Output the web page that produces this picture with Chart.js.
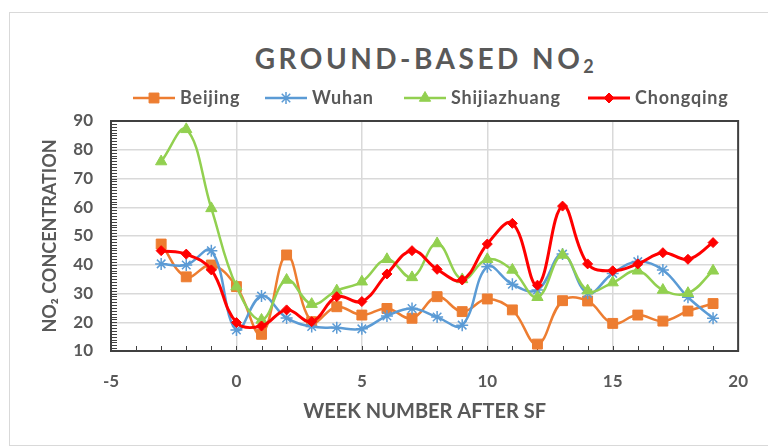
<!DOCTYPE html>
<html>

<head>
    <meta charset="utf-8">
    <script src="https://cdn.jsdelivr.net/npm/chart.js@4.4.0/dist/chart.umd.min.js"></script>
    <style>
        body { margin: 0; background: #fff; }
        #wrap { position: relative; width: 768px; height: 446px; overflow: hidden; }
        #frame { position: absolute; left: 9px; top: 12px; width: 800px; height: 432px; border: 1px solid #d9d9d9; }
        #title {
            position: absolute; left: 0; width: 852px; top: 41px; text-align: center;
            font: bold 28px Lato; line-height: 34px; letter-spacing: 3.5px; color: #595959;
        }
        #title sub { font-size: 18px; vertical-align: -4px; line-height: 0; }
        canvas { position: absolute; left: 0; top: 0; }
    </style>
</head>

<body>
    <div id="wrap">
        <div id="frame"></div>
        <div id="title">GROUND-BASED NO<sub>2</sub></div>
        <canvas id="myChart" width="768" height="446"></canvas>
    </div>

    <script>
        // week numbers after SF
        var weeks = [-3, -2, -1, 0, 1, 2, 3, 4, 5, 6, 7, 8, 9, 10, 11, 12, 13, 14, 15, 16, 17, 18, 19];

        var beijing = [47.2, 35.8, 39.9, 32.4, 15.8, 43.4, 20.2, 25.4, 22.5, 24.8, 21.4, 28.9, 23.7, 28.1, 24.3, 12.4, 27.5, 27.4, 19.6, 22.5, 20.4, 23.9, 26.5];
        var wuhan = [40.3, 39.9, 44.9, 17.3, 29.1, 21.5, 18.5, 18.1, 17.7, 22.2, 24.8, 21.8, 19.0, 39.3, 33.2, 31.2, 43.7, 30.1, 37.0, 41.1, 38.2, 28.7, 21.4];
        var shijiazhuang = [75.9, 87.1, 59.6, 32.4, 20.8, 34.7, 26.3, 31.0, 34.1, 41.9, 35.6, 47.4, 34.9, 41.9, 38.2, 28.7, 43.4, 31.0, 33.8, 37.9, 31.2, 30.1, 37.9];
        var chongqing = [44.9, 43.7, 38.2, 19.9, 18.7, 24.3, 20.2, 28.9, 27.2, 36.8, 44.9, 38.4, 34.7, 47.2, 54.4, 32.9, 60.4, 40.3, 37.9, 40.3, 44.2, 41.9, 47.7];

        var cities = ["Beijing", "Wuhan", "Shijiazhuang", "Chongqing"];

        // legend placement (left end of each legend line)
        var legendX = [133, 265, 404, 588];
        var legendY = 98;

        function pts(vals) {
            return weeks.map(function (w, i) { return { x: w, y: vals[i] }; });
        }

        function series(label, vals, color, style, radius, width, order) {
            return {
                label: label,
                data: pts(vals),
                borderColor: color,
                backgroundColor: color,
                pointBackgroundColor: color,
                pointBorderColor: color,
                pointStyle: style,
                pointRadius: radius,
                pointHoverRadius: radius,
                pointBorderWidth: style == "star" ? 1.5 : 1,
                borderWidth: width,
                tension: 0.4,
                order: order
            };
        }

        // minor ticks + box round the plot area
        var plotBox = {
            id: "plotBox",
            beforeDatasetsDraw: function (chart) {
                var ctx = chart.ctx, a = chart.chartArea;
                var xs = chart.scales.x, ys = chart.scales.y;
                ctx.save();
                ctx.strokeStyle = "#404040";
                ctx.lineWidth = 1;
                ctx.beginPath();
                for (var v = xs.min; v <= xs.max; v++) {
                    var px = Math.round(xs.getPixelForValue(v)) + 0.5;
                    ctx.moveTo(px, a.bottom);
                    ctx.lineTo(px, a.bottom - 5);
                }
                for (var w = ys.min; w <= ys.max; w++) {
                    var py = Math.round(ys.getPixelForValue(w)) + 0.5;
                    ctx.moveTo(a.left, py);
                    ctx.lineTo(a.left + 6, py);
                }
                ctx.stroke();
                ctx.lineWidth = 2;
                ctx.strokeRect(a.left, a.top, a.right - a.left, a.bottom - a.top);
                ctx.restore();
            }
        };

        // legend row: line with marker, then the name
        var legendRow = {
            id: "legendRow",
            afterDraw: function (chart) {
                var ctx = chart.ctx;
                ctx.save();
                chart.data.datasets.forEach(function (ds, i) {
                    var x0 = legendX[i];
                    ctx.strokeStyle = ds.borderColor;
                    ctx.fillStyle = ds.borderColor;
                    ctx.lineWidth = ds.borderWidth;
                    ctx.beginPath();
                    ctx.moveTo(x0, legendY);
                    ctx.lineTo(x0 + 42, legendY);
                    ctx.stroke();
                    ctx.lineWidth = ds.pointBorderWidth;
                    Chart.helpers.drawPoint(ctx, {
                        pointStyle: ds.pointStyle,
                        radius: ds.pointRadius,
                        borderWidth: ds.pointBorderWidth,
                        rotation: 0
                    }, x0 + 21, legendY);
                    ctx.fillStyle = "#595959";
                    ctx.font = "bold 18px Lato";
                    ctx.letterSpacing = "0.8px";
                    ctx.textBaseline = "middle";
                    ctx.fillText(ds.label, x0 + 47, legendY);
                });
                ctx.restore();
            }
        };

        var ctx = document.getElementById("myChart").getContext("2d");
        var chart = new Chart(ctx, {
            type: "line",
            data: {
                datasets: [
                    series(cities[0], beijing, "#ED7D31", "rect", 7, 2.5, 4),
                    series(cities[1], wuhan, "#5B9BD5", "star", 6, 2.5, 3),
                    series(cities[2], shijiazhuang, "#92D050", "triangle", 6.5, 2.5, 2),
                    series(cities[3], chongqing, "#FF0000", "rectRot", 5, 3, 1)
                ]
            },
            options: {
                responsive: false,
                animation: false,
                layout: { padding: { left: 30, top: 121, right: 25, bottom: 0 } },
                plugins: {
                    legend: { display: false },
                    tooltip: { enabled: false }
                },
                scales: {
                    x: {
                        type: "linear",
                        min: -5,
                        max: 20,
                        ticks: { stepSize: 5, padding: 20, color: "#595959", font: { family: "Lato", size: 17, weight: "bold" } },
                        grid: { color: "#d9d9d9", lineWidth: 1.5, drawTicks: false },
                        border: { color: "#404040", width: 2 },
                        title: {
                            display: true,
                            text: "WEEK NUMBER AFTER SF",
                            color: "#595959",
                            font: { family: "Lato", size: 20, weight: "bold" },
                            padding: { top: 0, bottom: 22 }
                        },
                        afterFit: function (s) { s.height = 95; }
                    },
                    y: {
                        min: 10,
                        max: 90,
                        ticks: { stepSize: 10, padding: 18, color: "#595959", font: { family: "Lato", size: 17, weight: "bold" } },
                        grid: { color: "#d9d9d9", lineWidth: 1.5, drawTicks: false },
                        border: { color: "#404040", width: 2 },
                        title: {
                            display: true,
                            text: "NO₂ CONCENTRATION",
                            color: "#595959",
                            font: { family: "Lato", size: 18, weight: "bold" },
                            padding: { top: 9, bottom: 0 }
                        },
                        afterFit: function (s) { s.width = 81; }
                    }
                }
            },
            plugins: [plotBox, legendRow]
        });
    </script>
</body>

</html>
